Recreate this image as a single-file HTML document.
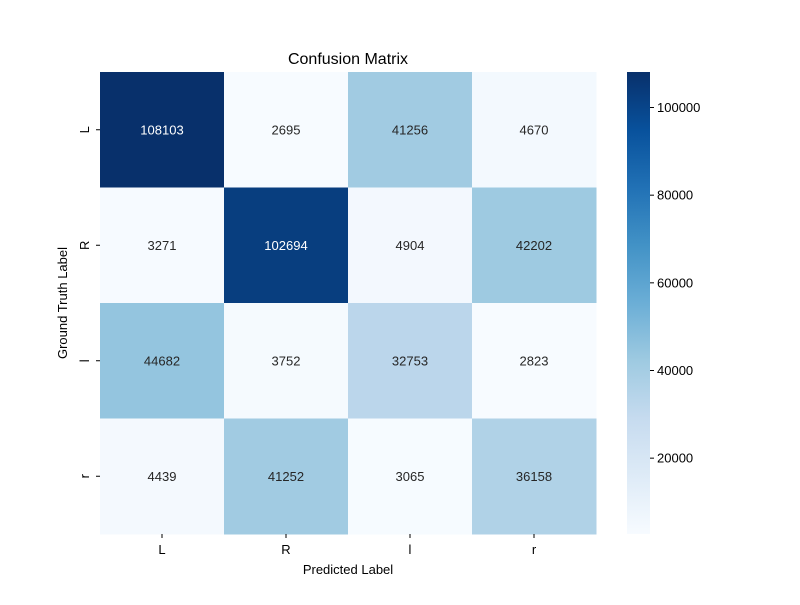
<!DOCTYPE html>
<html><head><meta charset="utf-8"><style>body{margin:0;background:#fff}svg text{font-family:"Liberation Sans","DejaVu Sans",sans-serif}</style></head>
<body>
<svg id="chart" width="800" height="600" xmlns="http://www.w3.org/2000/svg">
<defs><linearGradient id="cb" x1="0" y1="1" x2="0" y2="0">
<stop offset="0" stop-color="#f7fbff"/><stop offset="0.125" stop-color="#deebf7"/><stop offset="0.25" stop-color="#c6dbef"/><stop offset="0.375" stop-color="#9ecae1"/><stop offset="0.5" stop-color="#6baed6"/><stop offset="0.625" stop-color="#4292c6"/><stop offset="0.75" stop-color="#2171b5"/><stop offset="0.875" stop-color="#08519c"/><stop offset="1" stop-color="#08306b"/></linearGradient></defs>
<text x="348" y="64" text-anchor="middle" font-size="16">Confusion Matrix</text>
<text x="348" y="574" text-anchor="middle" font-size="13">Predicted Label</text>
<text transform="translate(67,303) rotate(-90)" text-anchor="middle" font-size="13">Ground Truth Label</text>
<g id="cells"></g>
<rect x="627" y="72" width="23" height="462" fill="url(#cb)"/>
<g id="cbticks"></g>
</svg>
<script>
const rowLabels=["L","R","l","r"];
const colLabels=["L","R","l","r"];
const row0=[108103,2695,41256,4670];
const row1=[3271,102694,4904,42202];
const row2=[44682,3752,32753,2823];
const row3=[4439,41252,3065,36158];
const cbTicks=[20000,40000,60000,80000,100000];
const values=[row0,row1,row2,row3];
const stops=["#f7fbff","#deebf7","#c6dbef","#9ecae1","#6baed6","#4292c6","#2171b5","#08519c","#08306b"];
const NS="http://www.w3.org/2000/svg";
const all=values.flat(),vmin=Math.min(...all),vmax=Math.max(...all);
const X0=100,Y0=72,W=496,H=462,cw=W/4,ch=H/4;
function hex(c){return [1,3,5].map(i=>parseInt(c.substr(i,2),16));}
function color(t){t=Math.max(0,Math.min(1,t))*8;const i=Math.min(7,Math.floor(t)),f=t-i;const a=hex(stops[i]),b=hex(stops[i+1]);return "rgb("+a.map((v,k)=>Math.round(v+(b[k]-v)*f)).join(",")+")";}
function cy(v){return Y0+H-(v-vmin)/(vmax-vmin)*H;}
function mk(tag,at,p){const e=document.createElementNS(NS,tag);for(const k in at)e.setAttribute(k,at[k]);p.appendChild(e);return e;}
const g=document.getElementById('cells');
values.forEach((row,r)=>row.forEach((v,c)=>{
const t=(v-vmin)/(vmax-vmin);
const rc=mk('rect',{x:X0+c*cw,y:Y0+r*ch,width:cw+0.5,height:ch+0.5,fill:color(t)},g);


const tx=mk('text',{x:X0+c*cw+cw/2,y:Y0+r*ch+ch/2+4.5,'text-anchor':'middle','font-size':13,fill:t>0.6?'#fff':'#262626'},g);


tx.textContent=v;
}));
const svg=document.getElementById('chart');
colLabels.forEach((l,i)=>{const x=X0+i*cw+cw/2;
mk('line',{x1:x,x2:x,y1:534,y2:538,stroke:'#000'},svg);
const t=mk('text',{x:x,y:554,'text-anchor':'middle','font-size':13},svg);


t.textContent=l;});
rowLabels.forEach((l,i)=>{const y=Y0+i*ch+ch/2;
mk('line',{x1:96,x2:100,y1:y,y2:y,stroke:'#000'},svg);
const t=mk('text',{transform:'translate(89,'+y+') rotate(-90)','text-anchor':'middle','font-size':13},svg);


t.textContent=l;});
const cg=document.getElementById('cbticks');
cbTicks.forEach(v=>{const y=cy(v);
mk('line',{x1:650,x2:654,y1:y,y2:y,stroke:'#000'},cg);
const t=mk('text',{x:657,y:y+4.5,'font-size':13},cg);


t.textContent=v;});
</script>
</body></html>
